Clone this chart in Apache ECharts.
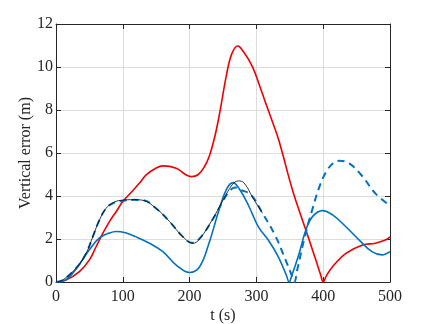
<!DOCTYPE html>
<html>
<head>
<meta charset="utf-8">
<script src="https://cdn.jsdelivr.net/npm/echarts@6/dist/echarts.min.js"></script>
<style>html,body{margin:0;padding:0;background:#fff}#c{width:432px;height:324px}</style>
</head>
<body>
<div id="c"></div>
<script>
const xTicks = [0, 100, 200, 300, 400, 500];
const yTicks = [0, 2, 4, 6, 8, 10, 12];

const redSeries = [[0,0],[15,0.09],[35,0.48],[50,1.03],[60,1.64],[70,2.26],[80,2.81],[90,3.27],[100,3.74],[112,4.15],[125,4.6],[135,4.98],[150,5.3],[160,5.4],[180,5.29],[195,4.98],[203,4.9],[213,5.0],[222,5.35],[230,5.9],[238,6.8],[245,7.85],[255,9.6],[263,10.6],[272,10.98],[282,10.65],[294,10.02],[304,9.2],[314,8.31],[324,7.45],[334,6.55],[354,4.28],[374,2.42],[389,1.02],[396,0.35],[400,0],[405,0.3],[414,0.71],[434,1.33],[459,1.72],[478,1.8],[493,1.95],[500,2.1]];

const blueSolid = [[0,0],[15,0.1],[30,0.6],[40,1.05],[50,1.5],[65,2.05],[80,2.28],[90,2.35],[104,2.29],[119,2.11],[140,1.8],[160,1.41],[180,0.79],[200,0.44],[215,0.71],[229,1.8],[244,3.35],[255,4.3],[265,4.62],[275,4.3],[288,3.57],[303,2.56],[318,1.94],[333,1.16],[345,0.3],[349,0],[353,0.3],[364,1.33],[374,2.42],[384,3.04],[399,3.32],[414,3.12],[434,2.57],[454,1.95],[473,1.41],[488,1.26],[500,1.41]];

const blueDashed = [[0,0],[10,0.09],[30,0.64],[45,1.33],[55,2.1],[65,2.88],[75,3.43],[85,3.66],[97,3.76],[117,3.82],[130,3.81],[150,3.42],[170,2.81],[190,2.1],[203,1.83],[215,2.03],[234,2.88],[249,3.7],[257,4.12],[268,4.4],[277,4.28],[292,4.05],[308,3.26],[328,2.17],[343,1.08],[353,0.3],[357,0],[361,0.55],[374,2.3],[384,3.4],[394,4.4],[404,5.1],[414,5.5],[424,5.64],[439,5.52],[459,4.9],[478,4.12],[500,3.55]];

const blackThin = [[0,0],[10,0.09],[30,0.64],[45,1.33],[55,2.1],[65,2.88],[75,3.43],[85,3.68],[97,3.8],[117,3.83],[130,3.8],[150,3.42],[170,2.81],[190,2.1],[205,1.8],[215,2.0],[234,2.9],[249,3.75],[260,4.35],[268,4.65],[275,4.7],[283,4.55],[294,3.95],[302,3.55],[309,3.2]];

const font = "'Liberation Serif', 'Times New Roman', serif";
const axisColor = '#262626';
const chart = echarts.init(document.getElementById('c'), null, {renderer: 'canvas'});
const common = {
  min: 0,
  nameMoveOverlap: false,
  axisLine: {show: true, onZero: false, lineStyle: {color: axisColor, width: 1}},
  axisTick: {show: true, inside: true, length: 5, lineStyle: {color: axisColor}},
};
chart.setOption({
  animation: false,
  backgroundColor: '#fff',
  grid: {left: 56, right: 42, top: 24, bottom: 42, containLabel: false, outerBoundsMode: 'none'},
  xAxis: [
    Object.assign({}, common, {
      type: 'value', max: 500, interval: 100, position: 'bottom',
      name: 't (s)', nameLocation: 'middle', nameGap: 26,
      nameTextStyle: {fontFamily: font, fontSize: 16, color: axisColor},
      axisLabel: {fontFamily: font, fontSize: 16, color: axisColor, margin: 7,
        formatter: v => xTicks.includes(v) ? String(v) : ''},
      splitLine: {show: true, lineStyle: {color: '#dcdcdc', width: 1}}
    }),
    Object.assign({}, common, {
      type: 'value', max: 500, interval: 100, position: 'top',
      axisLabel: {show: false}, splitLine: {show: false}
    })
  ],
  yAxis: [
    Object.assign({}, common, {
      type: 'value', max: 12, interval: 2, position: 'left',
      name: 'Vertical error (m)', nameLocation: 'middle', nameGap: 22,
      nameTextStyle: {fontFamily: font, fontSize: 16, color: axisColor},
      axisLabel: {fontFamily: font, fontSize: 16, color: axisColor, margin: 3,
        formatter: v => yTicks.includes(v) ? String(v) : ''},
      splitLine: {show: true, lineStyle: {color: '#dcdcdc', width: 1}}
    }),
    Object.assign({}, common, {
      type: 'value', max: 12, interval: 2, position: 'right',
      axisLabel: {show: false}, splitLine: {show: false}
    })
  ],
  series: [
    {type: 'line', data: redSeries, smooth: 0.4, showSymbol: false,
      lineStyle: {color: '#ee0000', width: 1.6}},
    {type: 'line', data: blueSolid, smooth: 0.4, showSymbol: false,
      lineStyle: {color: '#0072bd', width: 1.6}},
    {type: 'line', data: blueDashed, smooth: 0.4, showSymbol: false,
      lineStyle: {color: '#0072bd', width: 2, type: [7, 5]}},
    {type: 'line', data: blackThin, smooth: 0.4, showSymbol: false,
      lineStyle: {color: '#000000', width: 0.8}}
  ]
});
</script>
</body>
</html>
